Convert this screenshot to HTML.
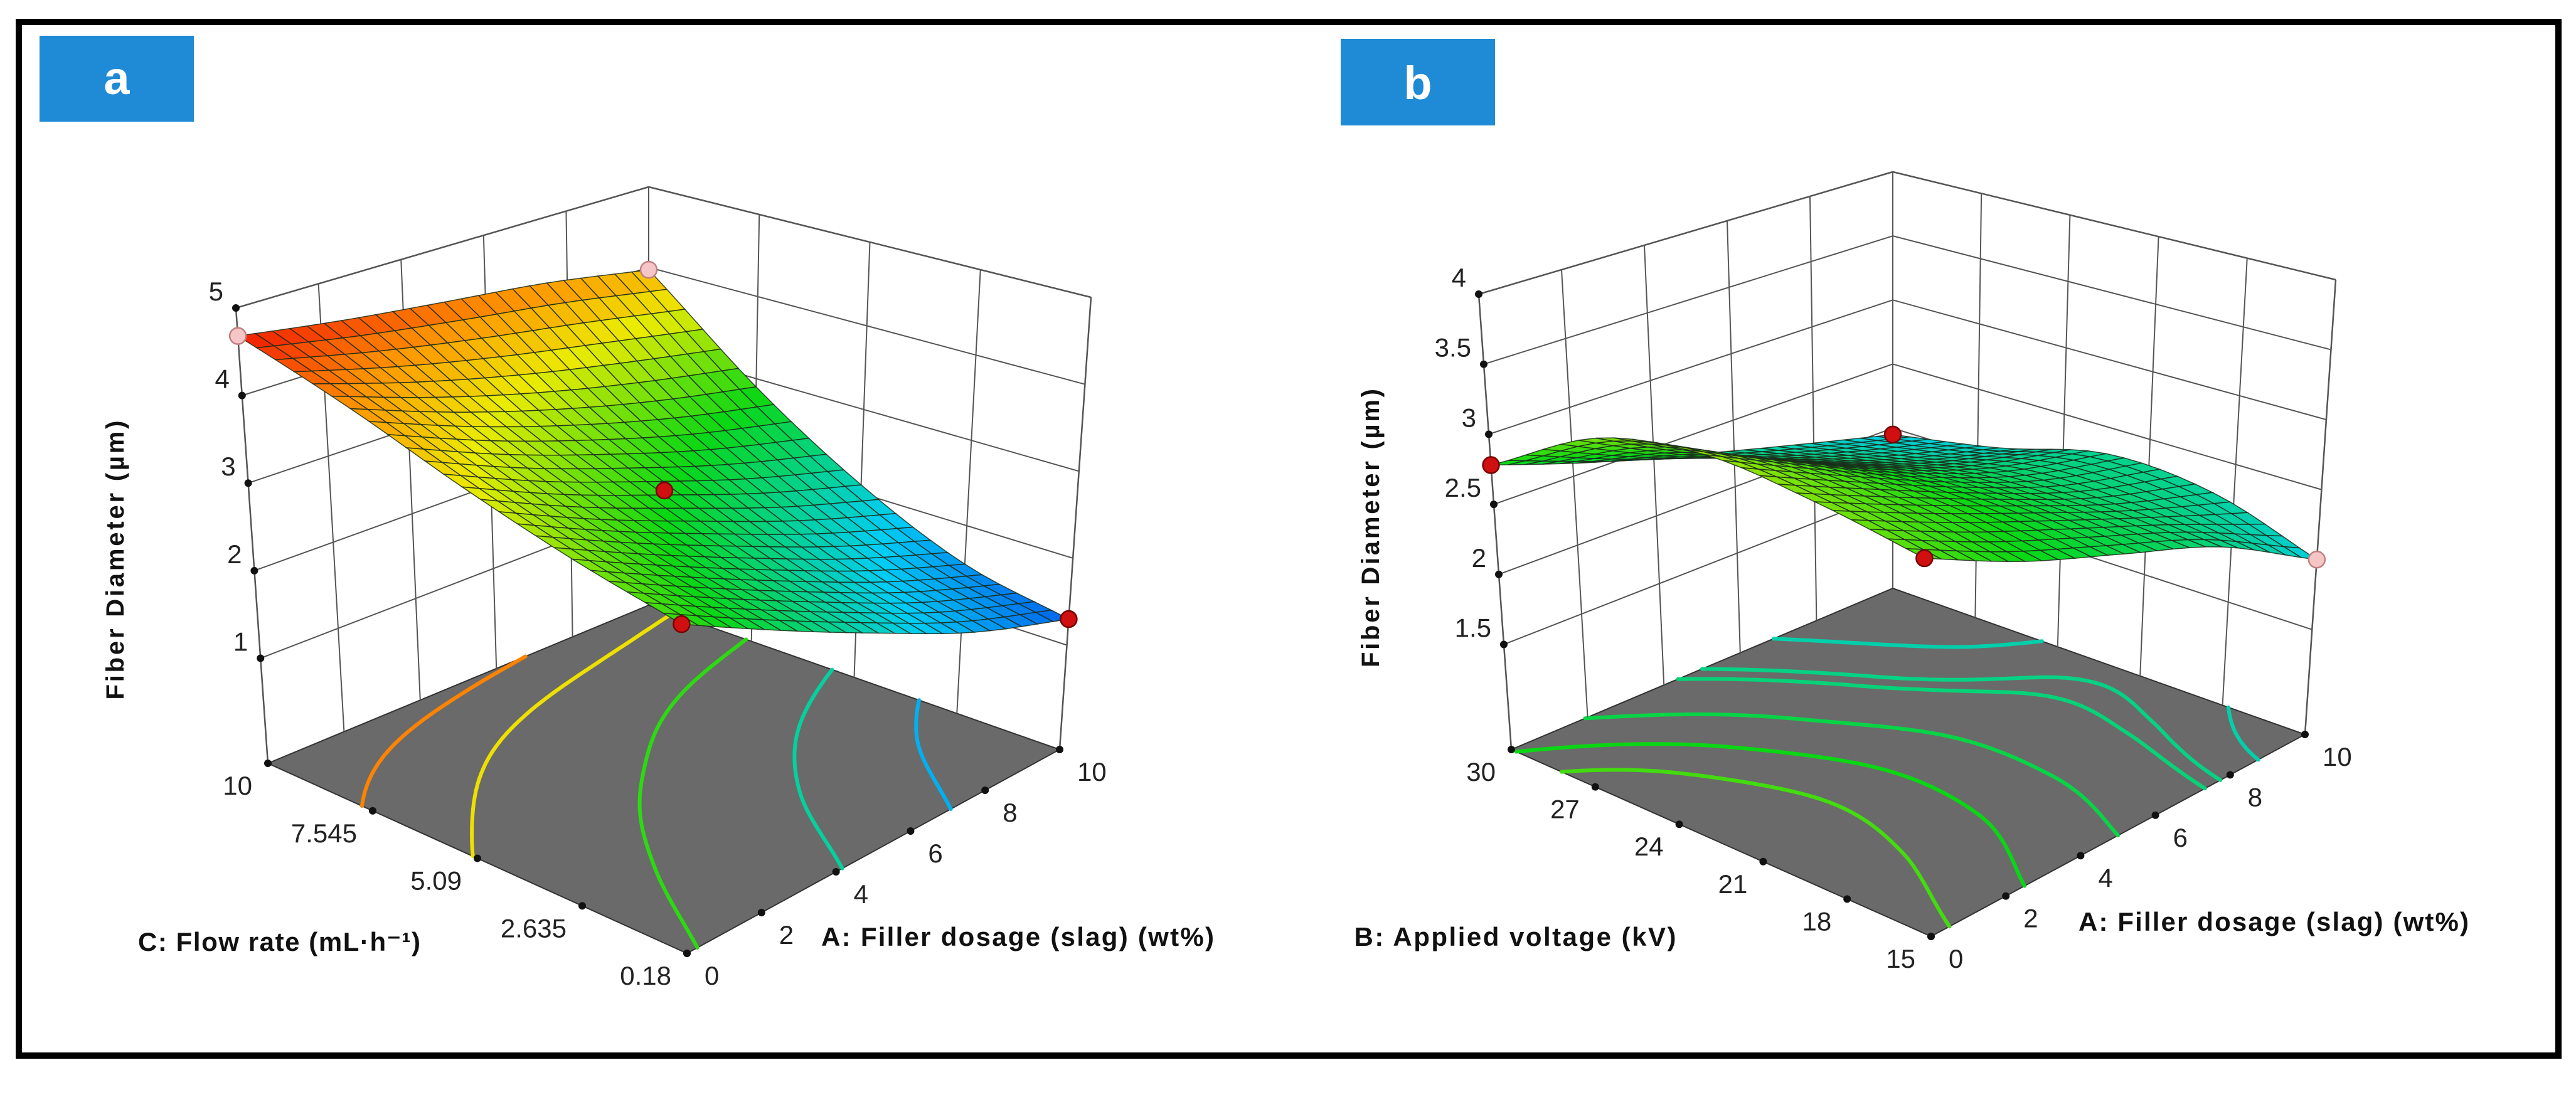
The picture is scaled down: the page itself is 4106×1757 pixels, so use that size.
<!DOCTYPE html>
<html><head><meta charset="utf-8"><style>
html,body{margin:0;padding:0;background:#fff;}
svg{display:block;}
text{font-family:"Liberation Sans",sans-serif;}
</style></head><body>
<svg id="fig" width="4106" height="1757" viewBox="0 0 4106 1757" xmlns="http://www.w3.org/2000/svg">
<rect x="0" y="0" width="4106" height="1757" fill="#fff"/>
<rect x="30" y="35" width="4048" height="1648" fill="none" stroke="#000" stroke-width="10"/>
<rect x="63" y="57" width="246" height="137" fill="#1f8ad6"/>
<text x="186" y="150" fill="#fff" font-size="74" font-weight="bold" text-anchor="middle">a</text>
<rect x="2137" y="62" width="246" height="138" fill="#1f8ad6"/>
<text x="2260" y="158" fill="#fff" font-size="74" font-weight="bold" text-anchor="middle">b</text>
<g id="pa"></g>
<g id="pb"></g>
<text x="445" y="1516" font-size="42" font-weight="bold" fill="#111" textLength="450" text-anchor="middle">C: Flow rate (mL·h⁻¹)</text>
<text x="1622" y="1508" font-size="42" font-weight="bold" fill="#111" textLength="626" text-anchor="middle">A: Filler dosage (slag) (wt%)</text>
<text transform="translate(197,893) rotate(-90)" font-size="40" font-weight="bold" fill="#111" textLength="445" text-anchor="middle">Fiber Diameter (µm)</text>
<text x="2415" y="1508" font-size="42" font-weight="bold" fill="#111" textLength="513" text-anchor="middle">B: Applied voltage (kV)</text>
<text x="3624" y="1484" font-size="42" font-weight="bold" fill="#111" textLength="622" text-anchor="middle">A: Filler dosage (slag) (wt%)</text>
<text transform="translate(2198,842) rotate(-90)" font-size="40" font-weight="bold" fill="#111" textLength="444" text-anchor="middle">Fiber Diameter (µm)</text>
</svg>
<script>
// ---------- Panel a data ----------
const aAvals = [0, 2.5, 5, 7.5, 10];
const aCvals = [0.18, 2.635, 5.09, 7.545, 10];
const aSurface = [
  [3.0, 2.55, 2.1, 1.65, 1.3],
  [3.3, 2.85, 2.4, 1.95, 1.55],
  [3.7, 3.25, 2.85, 2.45, 2.1],
  [4.2, 3.8, 3.45, 3.15, 2.9],
  [4.68, 4.5, 4.35, 4.2, 3.97]
];
const aZTicks = [1, 2, 3, 4, 5];
const aUTicks = [0, 2, 4, 6, 8, 10];
const aVTicks = [0.18, 2.635, 5.09, 7.545, 10];
const aVTickLabels = ["0.18", "2.635", "5.09", "7.545", "10"];
const aContourLevels = [4.25, 3.72, 2.95, 2.25, 1.72];
const aPtsA = [0, 10, 5, 0, 10];
const aPtsC = [10, 10, 5.09, 0.18, 0.18];
const aPtsZ = [4.68, 3.97, 2.9, 3.0, 1.3];
const aPtsPink = [true, true, false, false, false];
// ---------- Panel b data ----------
const bAvals = [0, 2.5, 5, 7.5, 10];
const bBvals = [15, 18.75, 22.5, 26.25, 30];
const bSurface = [
  [3.05, 2.8, 2.6, 2.38, 2.0],
  [3.2, 2.95, 2.7, 2.45, 2.25],
  [3.3, 3.0, 2.7, 2.45, 2.3],
  [3.2, 2.85, 2.55, 2.3, 2.1],
  [2.78, 2.55, 2.35, 2.15, 1.95]
];
const bZTicks = [1.5, 2, 2.5, 3, 3.5, 4];
const bUTicks = [0, 2, 4, 6, 8, 10];
const bVTicks = [15, 18, 21, 24, 27, 30];
const bVTickLabels = ["15", "18", "21", "24", "27", "30"];
const bContourLevels = [3.0, 2.8, 2.6, 2.4, 2.2, 2.35];
const bPtsA = [0, 10, 0, 10];
const bPtsB = [30, 30, 15, 15];
const bPtsZ = [2.78, 1.95, 3.05, 2.0];
const bPtsPink = [false, false, false, true];

const NS = "http://www.w3.org/2000/svg";
function mk(tag, attrs, parent) {
  const e = document.createElementNS(NS, tag);
  for (const k in attrs) e.setAttribute(k, attrs[k]);
  parent.appendChild(e);
  return e;
}
function cmap(t) {
  t = Math.max(0, Math.min(1, t));
  const s = [[0, [0, 40, 230]], [0.25, [0, 205, 245]], [0.5, [10, 215, 20]], [0.72, [235, 235, 0]], [0.86, [255, 150, 0]], [1, [240, 20, 0]]];
  for (let i = 0; i < s.length - 1; i++) {
    if (t <= s[i + 1][0]) {
      const f = (t - s[i][0]) / (s[i + 1][0] - s[i][0]);
      const c = s[i][1].map((x, k) => Math.round(x + (s[i + 1][1][k] - x) * f));
      return "rgb(" + c.join(",") + ")";
    }
  }
  return "rgb(240,20,0)";
}
function bil(c, u, v) {
  return [0, 1].map(k => (1 - u) * (1 - v) * c.F[k] + u * (1 - v) * c.R[k] + (1 - u) * v * c.L[k] + u * v * c.B[k]);
}
function cub(p0, p1, p2, p3, t) {
  return 0.5 * (2 * p1 + (-p0 + p2) * t + (2 * p0 - 5 * p1 + 4 * p2 - p3) * t * t + (-p0 + 3 * p1 - 3 * p2 + p3) * t * t * t);
}
function drawPanel(g, cfg) {
  const P = (u, v, z) => {
    const t = (z - cfg.zmin) / (cfg.zmax - cfg.zmin);
    const f = bil(cfg.floor, u, v), tp = bil(cfg.top, u, v);
    return [f[0] + (tp[0] - f[0]) * t, f[1] + (tp[1] - f[1]) * t];
  };
  const nu = A => (A - cfg.uvals[0]) / (cfg.uvals[cfg.uvals.length - 1] - cfg.uvals[0]);
  const nv = C => (C - cfg.vvals[0]) / (cfg.vvals[cfg.vvals.length - 1] - cfg.vvals[0]);
  const S = cfg.surface, n = S.length - 1;
  const row = (j) => {
    if (j < 0) return S[0].map((x, i) => 2 * x - S[1][i]);
    if (j > n) return S[n].map((x, i) => 2 * x - S[n - 1][i]);
    return S[j];
  };
  const at = (r, i) => i < 0 ? 2 * r[0] - r[1] : (i > n ? 2 * r[n] - r[n - 1] : r[i]);
  const val = (u, v) => {
    const x = Math.min(u * n, n - 1e-9), y = Math.min(v * n, n - 1e-9);
    const i = Math.floor(x), j = Math.floor(y), fx = x - i, fy = y - j;
    const cols = [-1, 0, 1, 2].map(dj => {
      const r = row(j + dj);
      return cub(at(r, i - 1), at(r, i), at(r, i + 1), at(r, i + 2), fx);
    });
    return cub(cols[0], cols[1], cols[2], cols[3], fy);
  };
  const pts = a => a.map(p => p[0].toFixed(1) + "," + p[1].toFixed(1)).join(" ");
  const floor = mk("polygon", {points: pts([P(0,0,cfg.zmin), P(1,0,cfg.zmin), P(1,1,cfg.zmin), P(0,1,cfg.zmin)]), fill: "#6a6a6a", stroke: "#333", "stroke-width": 2}, g);
  
  
  const M = 100;
  const grid = [];
  for (let i = 0; i <= M; i++) { grid.push([]); for (let j = 0; j <= M; j++) grid[i].push(val(i / M, j / M)); }
  cfg.levels.forEach((lev0, li) => {
    const lev = lev0 + 1e-6;
    let d = "";
    for (let i = 0; i < M; i++) for (let j = 0; j < M; j++) {
      const u0 = i / M, u1 = (i + 1) / M, v0 = j / M, v1 = (j + 1) / M;
      const c = [[u0, v0, grid[i][j]], [u1, v0, grid[i + 1][j]], [u1, v1, grid[i + 1][j + 1]], [u0, v1, grid[i][j + 1]]];
      const cr = [];
      for (let k = 0; k < 4; k++) {
        const a = c[k], b = c[(k + 1) % 4];
        if ((a[2] - lev) * (b[2] - lev) < 0) {
          const f = (lev - a[2]) / (b[2] - a[2]);
          cr.push(P(a[0] + (b[0] - a[0]) * f, a[1] + (b[1] - a[1]) * f, cfg.zmin));
        }
      }
      for (let k = 0; k + 1 < cr.length; k += 2) d += "M" + cr[k][0].toFixed(1) + "," + cr[k][1].toFixed(1) + "L" + cr[k + 1][0].toFixed(1) + "," + cr[k + 1][1].toFixed(1);
    }
    const p = mk("path", {d: d, stroke: cmap((lev0 - cfg.cmin) / (cfg.cmax - cfg.cmin)), "stroke-width": 6, "stroke-linecap": "round", fill: "none"}, g);
    
    
  });
  const gl = (a, b, name, w) => {
    const l = mk("line", {x1: a[0], y1: a[1], x2: b[0], y2: b[1], stroke: "#555", "stroke-width": w || 2}, g);
    
    
  };
  cfg.uticks.forEach(A => gl(P(nu(A), 1, cfg.zmin), P(nu(A), 1, cfg.zmax), 'left-wall-gridline'));
  cfg.vticks.forEach(C => gl(P(1, nv(C), cfg.zmin), P(1, nv(C), cfg.zmax), 'right-wall-gridline'));
  cfg.zticks.forEach(z => { gl(P(0, 1, z), P(1, 1, z), 'left-wall-z-gridline'); gl(P(1, 1, z), P(1, 0, z), 'right-wall-z-gridline'); });
  gl(P(0, 1, cfg.zmin), P(0, 1, cfg.zmax), 'z-axis-line', 2.5);
  gl(P(0, 1, cfg.zmax), P(1, 1, cfg.zmax), 'box-top-left', 2.5);
  gl(P(1, 1, cfg.zmax), P(1, 0, cfg.zmax), 'box-top-right', 2.5);
  gl(P(1, 0, cfg.zmin), P(1, 0, cfg.zmax), 'box-right-edge', 2.5);
  const N = 24, cells = [];
  for (let i = 0; i < N; i++) for (let j = 0; j < N; j++) cells.push([i, j]);
  cells.sort((a, b) => (b[0] + b[1]) - (a[0] + a[1]));
  const sg = mk("g", {}, g);
  
  
  cells.forEach(([i, j]) => {
    const u0 = i / N, u1 = (i + 1) / N, v0 = j / N, v1 = (j + 1) / N;
    const zc = val((u0 + u1) / 2, (v0 + v1) / 2);
    const poly = mk("polygon", {points: pts([P(u0, v0, val(u0, v0)), P(u1, v0, val(u1, v0)), P(u1, v1, val(u1, v1)), P(u0, v1, val(u0, v1))]),
      fill: cmap((zc - cfg.cmin) / (cfg.cmax - cfg.cmin)), stroke: "#1a2a1a", "stroke-width": 1.5, "stroke-opacity": 0.85}, sg);
    
    
  });
  const dot = (p, name) => { const c = mk("circle", {cx: p[0], cy: p[1], r: 6, fill: "#111"}, g);   };
  const txt = (x, y, s, anchor, name) => { const t = mk("text", {x: x, y: y, "font-size": 42, fill: "#222", "text-anchor": anchor}, g); t.textContent = s;   };
  cfg.zticks.forEach(z => { const p = P(0, 1, z); dot(p, 'z-tick'); txt(p[0] - 20, p[1] - 12, String(z), "end", 'z-tick-label'); });
  cfg.vticks.forEach((C, k) => { const p = P(0, nv(C), cfg.zmin); dot(p, 'v-axis-tick'); txt(p[0] - 25, p[1] + 50, cfg.vlabels[k], "end", 'v-axis-tick-label'); });
  cfg.uticks.forEach(A => { const p = P(nu(A), 0, cfg.zmin); dot(p, 'u-axis-tick'); txt(p[0] + 28, p[1] + 50, String(A), "start", 'u-axis-tick-label'); });
  cfg.pu.forEach((A, k) => {
    const p = P(nu(A), nv(cfg.pv[k]), cfg.pz[k]);
    const c = mk("circle", {cx: p[0], cy: p[1], r: 13, fill: cfg.ppink[k] ? "#f6c6c6" : "#d01010", stroke: cfg.ppink[k] ? "#c08080" : "#700", "stroke-width": 2.5}, g);
    
    
  });
}
drawPanel(document.getElementById("pa"), {
  floor: {F: [1095, 1520], R: [1689, 1195], L: [427, 1217], B: [1034, 965]},
  top: {F: [1081, 667], R: [1739, 474], L: [376, 491], B: [1034, 298]},
  zmin: -0.2, zmax: 5, cmin: 0.95, cmax: 4.7,
  uvals: aAvals, vvals: aCvals, surface: aSurface, levels: aContourLevels,
  zticks: aZTicks, uticks: aUTicks, vticks: aVTicks, vlabels: aVTickLabels,
  pu: aPtsA, pv: aPtsC, pz: aPtsZ, ppink: aPtsPink
});
drawPanel(document.getElementById("pb"), {
  floor: {F: [3078, 1493], R: [3674, 1171], L: [2409, 1195], B: [3017, 938]},
  top: {F: [3063, 641], R: [3723, 446], L: [2357, 469], B: [3017, 274]},
  zmin: 0.75, zmax: 4, cmin: 1.0, cmax: 4.6,
  uvals: bAvals, vvals: bBvals, surface: bSurface, levels: bContourLevels,
  zticks: bZTicks, uticks: bUTicks, vticks: bVTicks, vlabels: bVTickLabels,
  pu: bPtsA, pv: bPtsB, pz: bPtsZ, ppink: bPtsPink
});
</script>
</body></html>
